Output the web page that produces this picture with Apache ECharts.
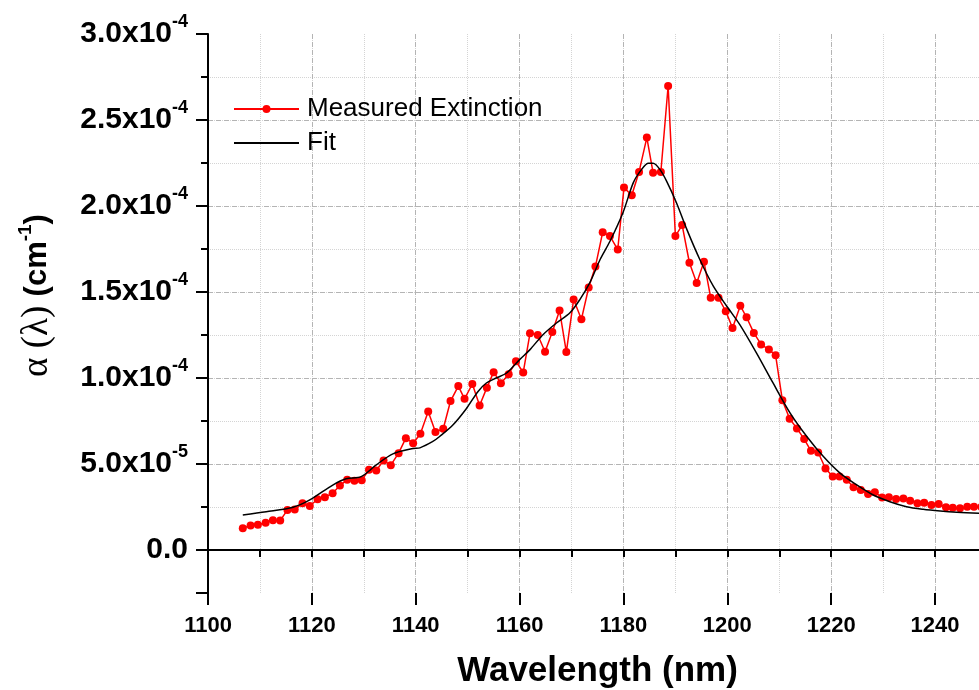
<!DOCTYPE html>
<html>
<head>
<meta charset="utf-8">
<script src="https://cdn.jsdelivr.net/npm/echarts@6/dist/echarts.min.js"></script>
<style>
html,body{margin:0;padding:0;background:#fff;}
#chart{width:979px;height:690px;}
</style>
</head>
<body>
<div id="chart"></div>
<script>
// Measured extinction: wavelength (nm) and alpha (cm^-1)
const measuredWavelength = [
  1106.7,1108.2,1109.6,1111.1,1112.5,1113.9,1115.3,1116.7,1118.2,1119.6,
  1121.1,1122.5,1124.0,1125.4,1126.8,1128.2,1129.6,1131.0,1132.4,1133.8,
  1135.2,1136.7,1138.1,1139.5,1140.9,1142.4,1143.8,1145.3,1146.7,1148.2,
  1149.4,1150.9,1152.3,1153.7,1155.0,1156.4,1157.9,1159.3,1160.7,1162.0,
  1163.5,1164.9,1166.3,1167.7,1169.0,1170.4,1171.9,1173.3,1174.6,1176.0,
  1177.4,1178.9,1180.1,1181.6,1183.0,1184.5,1185.7,1187.2,1188.6,1190.0,
  1191.3,1192.7,1194.1,1195.5,1196.8,1198.3,1199.7,1201.0,1202.5,1203.7,
  1205.1,1206.5,1208.0,1209.3,1210.6,1212.0,1213.4,1214.8,1216.1,1217.5,
  1218.9,1220.3,1221.6,1223.0,1224.3,1225.7,1227.1,1228.4,1229.8,1231.1,
  1232.5,1233.9,1235.2,1236.6,1237.9,1239.3,1240.7,1242.1,1243.4,1244.8,
  1246.2,1247.5,1248.9
];
const measuredAlpha = [
  1.26e-5,1.42e-5,1.47e-5,1.59e-5,1.73e-5,1.71e-5,2.33e-5,2.35e-5,2.72e-5,2.56e-5,
  2.95e-5,3.07e-5,3.30e-5,3.75e-5,4.08e-5,4.02e-5,4.06e-5,4.66e-5,4.62e-5,5.20e-5,
  4.93e-5,5.63e-5,6.50e-5,6.21e-5,6.76e-5,8.05e-5,6.86e-5,7.05e-5,8.66e-5,9.53e-5,
  8.79e-5,9.65e-5,8.40e-5,9.44e-5,10.34e-5,9.70e-5,10.22e-5,10.97e-5,10.32e-5,12.60e-5,
  12.50e-5,11.53e-5,12.68e-5,13.92e-5,11.51e-5,14.56e-5,13.41e-5,15.26e-5,16.48e-5,18.48e-5,
  18.25e-5,17.47e-5,21.07e-5,20.62e-5,21.98e-5,23.98e-5,21.94e-5,21.98e-5,26.98e-5,18.25e-5,
  18.89e-5,16.70e-5,15.53e-5,16.76e-5,14.66e-5,14.66e-5,13.88e-5,12.91e-5,14.20e-5,13.53e-5,
  12.62e-5,11.95e-5,11.65e-5,11.32e-5,8.70e-5,7.63e-5,7.07e-5,6.45e-5,5.77e-5,5.67e-5,
  4.74e-5,4.27e-5,4.27e-5,4.08e-5,3.65e-5,3.49e-5,3.26e-5,3.36e-5,3.05e-5,3.07e-5,
  2.97e-5,2.99e-5,2.87e-5,2.72e-5,2.75e-5,2.62e-5,2.68e-5,2.49e-5,2.46e-5,2.43e-5,
  2.52e-5,2.52e-5,2.50e-5
];
// Fit curve
const fitWavelength = [
  1106.7,1111.2,1116.4,1119.6,1124.1,1126.6,1129.5,1132.4,1135.6,1139.5,
  1140.8,1143.3,1144.6,1147.1,1149.7,1152.0,1153.6,1155.5,1157.5,1160.0,
  1162.0,1164.5,1167.1,1169.7,1171.6,1173.5,1175.5,1177.4,1179.9,1181.9,
  1183.5,1184.8,1185.7,1187.0,1188.3,1190.2,1192.2,1194.7,1197.3,1199.9,
  1202.4,1205.6,1208.8,1212.1,1215.3,1218.5,1221.7,1224.9,1228.1,1231.3,
  1234.5,1237.7,1241.0,1244.2,1248.5,1250.0
];
const fitAlpha = [
  2.04e-5,2.23e-5,2.49e-5,2.91e-5,3.79e-5,4.14e-5,4.27e-5,4.95e-5,5.59e-5,5.90e-5,
  5.94e-5,6.31e-5,6.60e-5,7.25e-5,8.20e-5,9.22e-5,9.71e-5,10.00e-5,10.29e-5,11.07e-5,
  11.65e-5,12.52e-5,13.20e-5,13.79e-5,14.56e-5,15.53e-5,16.89e-5,17.95e-5,19.61e-5,21.36e-5,
  22.13e-5,22.48e-5,22.48e-5,22.13e-5,21.45e-5,20.19e-5,18.64e-5,16.89e-5,15.34e-5,14.17e-5,
  13.10e-5,11.46e-5,9.71e-5,7.96e-5,6.60e-5,5.43e-5,4.47e-5,3.79e-5,3.20e-5,2.81e-5,
  2.52e-5,2.37e-5,2.27e-5,2.20e-5,2.14e-5,2.13e-5
];
const seriesNames = ['Measured Extinction', 'Fit'];
const xMin = 1100, xMax = 1250, xMinorStep = 10, xMajorStep = 20;
const yMin = -2.5e-5, yMax = 3.0e-4, yMinorStep = 2.5e-5, yMajorStep = 5e-5;

const measuredData = measuredWavelength.map((x, i) => [x, measuredAlpha[i]]);
const fitData = fitWavelength.map((x, i) => [x, fitAlpha[i]]);

const FONT = 'Liberation Sans, Arial, sans-serif';

function yLabel(v) {
  const k = Math.round(v / yMajorStep);
  if (v < -1e-12 || Math.abs(k * yMajorStep - v) > 1e-10) return '';
  if (Math.abs(v) < 1e-12) return '{m|0.0}';
  const e = Math.floor(Math.log10(v) + 1e-9);
  const m = (v / Math.pow(10, e)).toFixed(1);
  return '{m|' + m + 'x10}{s|' + e + '}';
}

const chart = echarts.init(document.getElementById('chart'), null, {renderer: 'canvas'});
chart.setOption({
  animation: false,
  backgroundColor: '#ffffff',
  grid: {left: 208, top: 34, width: 779, height: 559, containLabel: false, outerBoundsMode: 'none'},
  legend: {
    data: [
      {name: seriesNames[0]},
      {name: seriesNames[1], itemStyle: {opacity: 0}}
    ],
    orient: 'vertical',
    left: 228, top: 91,
    itemWidth: 65, itemHeight: 10, itemGap: 8,
    textStyle: {fontFamily: FONT, fontSize: 26, color: '#000', lineHeight: 26, padding: [0, 0, 0, 3]}
  },
  xAxis: [
    {
      type: 'value', min: xMin, max: xMax, interval: xMinorStep, position: 'bottom',
      axisLine: {show: true, lineStyle: {color: '#000', width: 2}},
      axisTick: {show: true, length: 7, lineStyle: {color: '#000', width: 2}},
      axisLabel: {
        margin: 22, color: '#000', fontFamily: FONT, fontWeight: 'bold', fontSize: 22,
        formatter: v => (Math.round(v) % xMajorStep === 0 ? String(Math.round(v)) : '')
      },
      splitLine: {show: true, showMinLine: false, showMaxLine: false, lineStyle: {type: 'dotted', color: '#d4d4d4', width: 1}},
      name: 'Wavelength (nm)', nameLocation: 'middle', nameGap: 61,
      nameTextStyle: {fontFamily: FONT, fontWeight: 'bold', fontSize: 35, color: '#000'}
    },
    {
      type: 'value', min: xMin, max: xMax, interval: xMajorStep, position: 'top', offset: -559,
      axisLine: {show: false},
      axisTick: {show: true, inside: true, length: 12, lineStyle: {color: '#000', width: 2}},
      axisLabel: {show: false},
      splitLine: {show: true, showMinLine: false, showMaxLine: false, lineStyle: {type: [5, 3], color: '#b4b4b4', width: 1}}
    }
  ],
  yAxis: [
    {
      type: 'value', min: yMin, max: yMax, interval: yMinorStep, position: 'left',
      axisLine: {show: true, lineStyle: {color: '#000', width: 2}},
      axisTick: {show: true, length: 7, lineStyle: {color: '#000', width: 2}},
      axisLabel: {
        margin: 20, formatter: yLabel,
        rich: {
          m: {fontFamily: FONT, fontWeight: 'bold', fontSize: 30, color: '#000', lineHeight: 42},
          s: {fontFamily: FONT, fontWeight: 'bold', fontSize: 18, color: '#000', lineHeight: 18, verticalAlign: 'top'}
        }
      },
      splitLine: {show: true, showMinLine: false, showMaxLine: false, lineStyle: {type: 'dotted', color: '#d4d4d4', width: 1}},
      name: '{a|α (λ) }{c|(cm}{s|-1}{c|)}',
      nameLocation: 'middle', nameGap: 150, nameRotate: 90,
      nameTextStyle: {
        padding: [0, 0, 0, 36],
        rich: {
          a: {fontFamily: 'Liberation Serif, serif', fontSize: 37, color: '#000', lineHeight: 42},
          c: {fontFamily: FONT, fontWeight: 'bold', fontSize: 31, color: '#000', lineHeight: 42},
          s: {fontFamily: FONT, fontWeight: 'bold', fontSize: 19, color: '#000', lineHeight: 19, verticalAlign: 'top'}
        }
      }
    },
    {
      type: 'value', min: yMin, max: yMax, position: 'right', offset: -779,
      axisLine: {show: false},
      axisTick: {show: true, inside: true, length: 12, lineStyle: {color: '#000', width: 2}},
      axisLabel: {show: false},
      splitLine: {show: true, showMinLine: false, showMaxLine: false, lineStyle: {type: [5, 3], color: '#b4b4b4', width: 1}}
    }
  ],
  series: [
    {
      name: seriesNames[0], type: 'line', xAxisIndex: 0, yAxisIndex: 0,
      data: measuredData,
      symbol: 'circle', symbolSize: 8, showSymbol: true,
      itemStyle: {color: '#ff0000'},
      lineStyle: {color: '#ff0000', width: 1.5},
      z: 3
    },
    {
      name: seriesNames[1], type: 'line', xAxisIndex: 0, yAxisIndex: 0,
      data: fitData,
      symbol: 'none', smooth: 0.3,
      itemStyle: {color: '#000'},
      lineStyle: {color: '#000', width: 1.5},
      z: 4
    }
  ]
});
</script>
</body>
</html>
